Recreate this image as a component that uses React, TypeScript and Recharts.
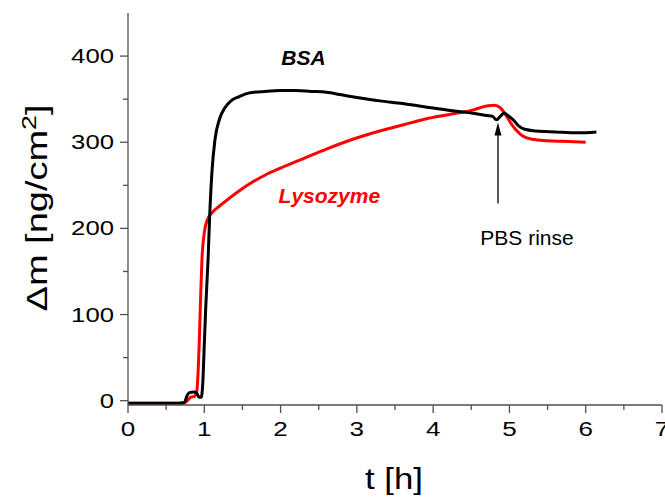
import React from 'react'
import { LineChart, Line, XAxis, YAxis, Label, ReferenceDot, ReferenceLine } from 'recharts'

// BSA adsorption (black)
const bsaTime = [
  0, 0.3, 0.6, 0.74, 0.77, 0.8, 0.86, 0.9, 0.93, 0.96, 0.98, 1.0, 1.02, 1.05, 1.07, 1.1, 1.14,
  1.2, 1.27, 1.35, 1.46, 1.58, 1.8, 2.0, 2.2, 2.4, 2.6, 2.8, 3.0, 3.3, 3.6, 3.9, 4.2, 4.5, 4.7,
  4.78, 4.83, 4.88, 4.93, 4.98, 5.05, 5.12, 5.2, 5.35, 5.6, 5.9, 6.14,
]
const bsaMass = [
  -3, -3, -3, -2, 5, 9, 10, 9, 4, 4, 20, 65, 110, 165, 213, 265, 303,
  327, 340, 348, 353, 357, 359, 360, 360, 359, 358, 355, 352, 348, 345, 341, 337, 334, 331,
  330, 326, 330, 334, 331, 326, 319, 315, 313, 312, 311, 312,
]

// Lysozyme adsorption (red)
const lysTime = [
  0, 0.3, 0.6, 0.72, 0.78, 0.82, 0.87, 0.9, 0.92, 0.935, 0.95, 0.97, 1.0, 1.04, 1.1, 1.2, 1.3,
  1.45, 1.6, 1.8, 2.0, 2.3, 2.6, 2.9, 3.3, 3.6, 3.9, 4.2, 4.5, 4.7, 4.8, 4.88, 4.95, 5.02, 5.09,
  5.18, 5.27, 5.45, 5.7, 6.0,
]
const lysMass = [
  -3, -3, -3, -3, 0, 4, 5, 10, 35, 70, 115, 165, 195, 210, 218, 226, 233,
  243, 252, 262, 270, 281, 292, 302, 313, 320, 327, 332, 337, 342, 343, 340, 332, 322, 314,
  307, 304, 302, 301, 300,
]

const xTicks = [0, 0.5, 1, 1.5, 2, 2.5, 3, 3.5, 4, 4.5, 5, 5.5, 6, 6.5, 7]
const yTicks = [0, 50, 100, 150, 200, 250, 300, 350, 400]

// annotation anchors in data units
const bsaLabel = { t: 2.3, m: 398, text: 'BSA' }
const lysLabel = { t: 2.64, m: 238, text: 'Lysozyme' }
const rinseLabel = { t: 5.23, m: 189, text: 'PBS rinse' }
const rinseArrow = { t: 4.85, from: 229, to: 323 }

const bsaData = bsaTime.map((t, i) => ({ t, m: bsaMass[i] }))
const lysData = lysTime.map((t, i) => ({ t, m: lysMass[i] }))

const FONT = '"Liberation Sans", Arial, sans-serif'
const AXIS = '#505050'

const XTick = ({ x, y, payload }: any) => {
  const v = payload.value
  const major = Number.isInteger(v)
  const s = String(v)
  return (
    <g>
      <line x1={x} y1={y} x2={x} y2={y + (major ? 8 : 5)} stroke={AXIS} strokeWidth={1.3} />
      {major && (
        <text x={x} y={y + 31} textAnchor="middle" fontSize={19.5} fontFamily={FONT} fill="#000"
          textLength={s.length * 14.5} lengthAdjust="spacingAndGlyphs">{s}</text>
      )}
    </g>
  )
}

const YTick = ({ x, y, payload }: any) => {
  const v = payload.value
  const major = v % 100 === 0
  const s = String(v)
  return (
    <g>
      <line x1={x} y1={y} x2={x - (major ? 8 : 5)} y2={y} stroke={AXIS} strokeWidth={1.3} />
      {major && (
        <text x={x - 14} y={y} dy="0.36em" textAnchor="end" fontSize={19.5} fontFamily={FONT} fill="#000"
          textLength={s.length * 14.3} lengthAdjust="spacingAndGlyphs">{s}</text>
      )}
    </g>
  )
}

export default function App() {
  return (
    <div style={{ position: 'absolute', left: 0, top: 0, background: '#fff' }}>
      <LineChart width={665} height={498} margin={{ top: 13, right: 3, bottom: 0, left: 0 }}>
        <XAxis
          dataKey="t"
          type="number"
          domain={[0, 7]}
          ticks={xTicks}
          interval={0}
          height={93}
          tickSize={0}
          tickMargin={0}
          tickLine={false}
          tick={<XTick />}
          axisLine={{ stroke: AXIS, strokeWidth: 1.3 }}
          allowDataOverflow
        >
          <Label
            content={() => (
              <text x={394} y={489} textAnchor="middle" fontSize={29} fontFamily={FONT} fill="#000"
                textLength={58} lengthAdjust="spacingAndGlyphs">t [h]</text>
            )}
          />
        </XAxis>
        <XAxis xAxisId="top" orientation="top" type="number" domain={[0, 7]} height={0}
          tick={false} tickLine={false} axisLine={{ stroke: AXIS, strokeWidth: 1.3 }} />
        <YAxis
          type="number"
          domain={[-5, 450]}
          ticks={yTicks}
          interval={0}
          width={128}
          tickSize={0}
          tickMargin={0}
          tickLine={false}
          tick={<YTick />}
          axisLine={{ stroke: AXIS, strokeWidth: 1.3 }}
          allowDataOverflow
        >
          <Label
            content={() => (
              <text transform="translate(47,208) rotate(-90)" textAnchor="middle" fontSize={30}
                fontFamily={FONT} fill="#000" textLength={207} lengthAdjust="spacingAndGlyphs">
                <tspan>Δm [ng/cm</tspan>
                <tspan dy={-11} fontSize={21}>2</tspan>
                <tspan dy={11}>]</tspan>
              </text>
            )}
          />
        </YAxis>
        <YAxis yAxisId="right" orientation="right" type="number" domain={[-5, 450]} width={0}
          tick={false} tickLine={false} axisLine={{ stroke: AXIS, strokeWidth: 1.3 }} />

        <Line data={lysData} dataKey="m" type="monotone" stroke="#ff0000" strokeWidth={3}
          dot={false} isAnimationActive={false} />
        <Line data={bsaData} dataKey="m" type="monotone" stroke="#000000" strokeWidth={3}
          dot={false} isAnimationActive={false} />

        <ReferenceLine
          segment={[{ x: rinseArrow.t, y: rinseArrow.from }, { x: rinseArrow.t, y: rinseArrow.to - 8 }]}
          stroke="#000" strokeWidth={1.3}
        />
        <ReferenceDot x={rinseArrow.t} y={rinseArrow.to}
          shape={(p: any) => (
            <polygon points={`${p.cx},${p.cy} ${p.cx - 3.5},${p.cy + 13} ${p.cx + 3.5},${p.cy + 13}`} fill="#000" />
          )}
        />
        <ReferenceDot x={bsaLabel.t} y={bsaLabel.m}
          shape={(p: any) => (
            <text x={p.cx} y={p.cy} dy="0.36em" textAnchor="middle" fontSize={21} fontWeight="bold"
              fontStyle="italic" fontFamily={FONT} fill="#000">{bsaLabel.text}</text>
          )}
        />
        <ReferenceDot x={lysLabel.t} y={lysLabel.m}
          shape={(p: any) => (
            <text x={p.cx} y={p.cy} dy="0.36em" textAnchor="middle" fontSize={21} fontWeight="bold"
              fontStyle="italic" fontFamily={FONT} fill="#ff0000">{lysLabel.text}</text>
          )}
        />
        <ReferenceDot x={rinseLabel.t} y={rinseLabel.m}
          shape={(p: any) => (
            <text x={p.cx} y={p.cy} dy="0.36em" textAnchor="middle" fontSize={21}
              fontFamily={FONT} fill="#000">{rinseLabel.text}</text>
          )}
        />
      </LineChart>
    </div>
  )
}
